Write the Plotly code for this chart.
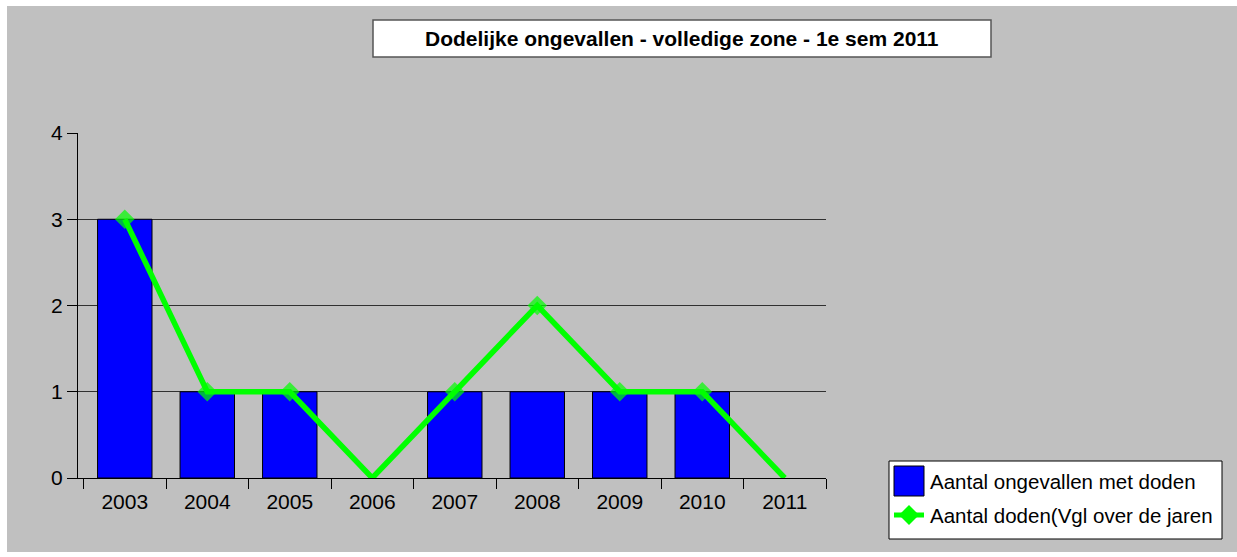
import plotly.graph_objects as go

years = ["2003", "2004", "2005", "2006", "2007", "2008", "2009", "2010", "2011"]
accidents = [3, 1, 1, 0, 1, 1, 1, 1, 0]
deaths = [3, 1, 1, 0, 1, 2, 1, 1, 0]
title_text = "Dodelijke ongevallen - volledige zone - 1e sem 2011"
name_bar = "Aantal ongevallen met doden"
name_line = "Aantal doden(Vgl over de jaren"

W, H = 1237, 557
L, R, T, B = 78, 826, 133, 478
pw, ph = R - L, B - T

def px(x):
    return (x - L) / pw

def py(y):
    return (B - y) / ph

fig = go.Figure()
fig.add_trace(go.Bar(
    x=years, y=accidents, name=name_bar,
    marker=dict(color="#0000ff", line=dict(color="#000000", width=[1 if v > 0 else 0 for v in accidents])),
    width=0.66, showlegend=False,
))
fig.add_trace(go.Scatter(
    x=years, y=deaths, name=name_line, mode="lines+markers",
    line=dict(color="#00ff00", width=5.5),
    marker=dict(symbol="diamond", size=[15 if v > 0 else 0 for v in deaths], color="#00ff00",
                line=dict(width=0)),
    cliponaxis=True, showlegend=False,
))

# legend geometry (pixels)
lx0, lx1, ly0, ly1 = 889, 1222, 461, 539
dcx, dcy, dr = 909, 515, 10

shapes = [
    dict(type="rect", xref="paper", yref="paper", layer="below",
         x0=px(7), x1=px(1237), y0=py(552), y1=py(6),
         fillcolor="#c0c0c0", line=dict(width=0)),
    dict(type="rect", xref="paper", yref="paper",
         x0=px(373), x1=px(991), y0=py(57), y1=py(20),
         fillcolor="#ffffff", line=dict(color="#555555", width=1.5)),
    dict(type="rect", xref="paper", yref="paper",
         x0=px(lx0), x1=px(lx1), y0=py(ly1), y1=py(ly0),
         fillcolor="#ffffff", line=dict(color="#000000", width=1)),
    dict(type="rect", xref="paper", yref="paper",
         x0=px(894), x1=px(924), y0=py(496), y1=py(466),
         fillcolor="#0000ff", line=dict(color="#000000", width=1)),
    dict(type="line", xref="paper", yref="paper",
         x0=px(894), x1=px(924), y0=py(dcy), y1=py(dcy),
         line=dict(color="#00ff00", width=5)),
    dict(type="path", xref="paper", yref="paper",
         path=(f"M {px(dcx - dr)} {py(dcy)} L {px(dcx)} {py(dcy - dr)} "
               f"L {px(dcx + dr)} {py(dcy)} L {px(dcx)} {py(dcy + dr)} Z"),
         fillcolor="#00ff00", line=dict(color="#00ff00", width=0)),
]

annotations = [
    dict(text="<b>" + title_text + "</b>", xref="paper", yref="paper",
         x=px(682), y=py(38.5), xanchor="center", yanchor="middle",
         showarrow=False, font=dict(size=21)),
    dict(text=name_bar, xref="paper", yref="paper", x=px(928), y=py(481),
         xanchor="left", yanchor="middle", showarrow=False, font=dict(size=20.5)),
    dict(text=name_line, xref="paper", yref="paper", x=px(928), y=py(515),
         xanchor="left", yanchor="middle", showarrow=False, font=dict(size=20.5)),
]

fig.update_layout(
    width=W, height=H,
    margin=dict(l=L, r=W - R, t=T, b=H - B, autoexpand=False),
    paper_bgcolor="#ffffff", plot_bgcolor="rgba(0,0,0,0)",
    font=dict(family="Arial, Liberation Sans, sans-serif", color="#000000", size=21),
    shapes=shapes,
    annotations=annotations,
    showlegend=False,
    bargap=0.34,
)
fig.update_xaxes(type="category", showline=True, linecolor="#000000", linewidth=1,
                 ticks="outside", tickson="boundaries", ticklen=10, tickcolor="#000000",
                 showgrid=False, tickfont=dict(size=21), ticklabelstandoff=5)
fig.update_yaxes(range=[0, 4], tickvals=[0, 1, 2, 3, 4], showline=True, linecolor="#000000",
                 linewidth=1, ticks="outside", ticklen=10, tickcolor="#000000",
                 showgrid=True, gridcolor="#303030", gridwidth=1, zeroline=False,
                 tickfont=dict(size=21), ticklabelstandoff=0)

fig.write_html("out.html", config={"displayModeBar": False},
               post_script="document.body.style.margin='0';document.body.style.padding='0';")
